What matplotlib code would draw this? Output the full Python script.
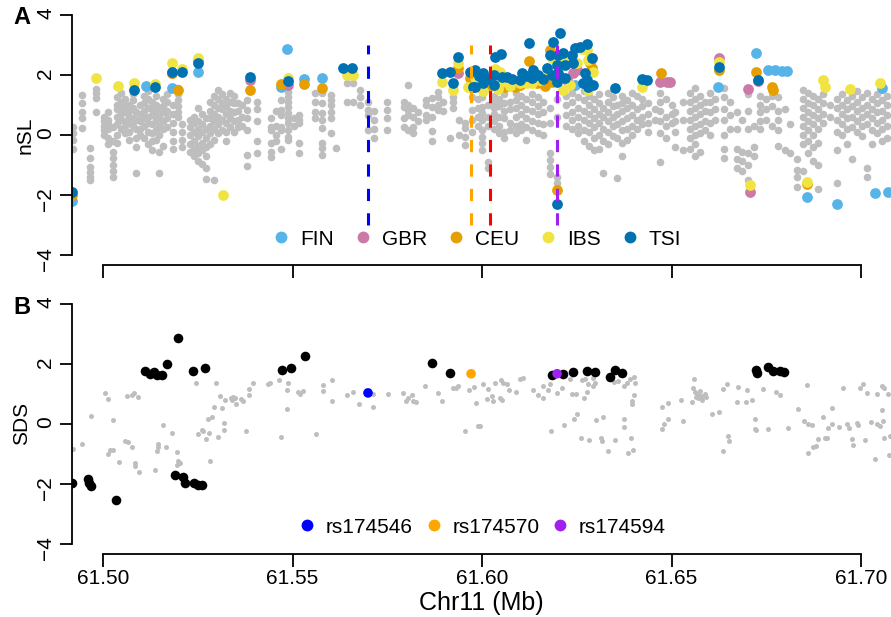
import matplotlib
matplotlib.use("Agg")
import matplotlib.pyplot as plt
from matplotlib.lines import Line2D

plt.rcParams["font.family"] = ["Liberation Sans", "DejaVu Sans"]

# ---- panel A: nSL, gray background SNPs as (position Mb, [values]) columns ----
gray_a_seg1 = [
    (61.4921, [0.25, 0.05, -0.15, -0.45]),
    (61.4945, [1.33, 1.06, 0.78, 0.56, 0.22]),
    (61.4966, [-0.44, -0.78, -1.06, -1.22, -1.39, -1.5]),
    (61.4982, [1.52, 1.39, 1.22, 0.78]),
    (61.5003, [0.6, 0.45, 0.3, 0.15, 0.0]),
    (61.5013, [0.75, 0.5, 0.35, 0.2, -0.1, -0.3]),
    (61.5026, [0.25, -0.2, -0.55, -0.75, -1.0, -1.2, -1.4]),
    (61.5037, [1.25, 1.0, 0.85, 0.6, 0.35, 0.0, -0.25]),
    (61.5047, [1.4, 1.1, 0.9, 0.7, 0.5, 0.2]),
    (61.5058, [1.2, 0.95, 0.75, 0.45, 0.3, 0.05]),
    (61.5069, [1.0, 0.8, 0.6, 0.4, 0.1, -0.15]),
    (61.5079, [1.35, 1.15, 0.9, 0.55, 0.3]),
    (61.5087, [0.75, 0.5, 0.2, -0.1, -0.4, -1.25]),
    (61.5098, [1.0, 0.7, 0.45, 0.2, 0.0]),
    (61.5108, [1.3, 1.05, 0.8, 0.55, 0.3, -0.1]),
    (61.5119, [1.45, 1.2, 0.9, 0.6, 0.4, 0.1, -0.3]),
    (61.5129, [1.1, 0.85, 0.65, 0.35, 0.05, -0.2, -0.5]),
    (61.5140, [1.3, 1.0, 0.7, 0.5, 0.15, -0.15]),
    (61.5148, [0.9, 0.6, 0.3, 0.0, -0.55, -1.25]),
    (61.5158, [1.2, 0.95, 0.75, 0.45, 0.2, -0.35]),
    (61.5169, [1.35, 1.1, 0.8, 0.55, 0.25]),
    (61.5185, [1.0, 0.7, 0.4, 0.1, -0.2, -0.45]),
    (61.5198, [1.55, 1.35, 1.15, 0.95, 0.75, 0.6]),
    (61.5208, [0.35, 0.1, -0.15, -0.4]),
    (61.5230, [0.5, 0.25, 0.0, -0.3, -0.55]),
    (61.5240, [0.6, 0.4, 0.1, -0.2, -0.45, -0.7]),
    (61.5251, [0.9, 0.45, 0.2, -0.05, -0.35, -0.6, -0.85]),
    (61.5261, [0.7, 0.35, 0.1, -0.25, -0.5, -0.95]),
    (61.5272, [0.55, 0.2, -0.1, -0.4, -0.7, -1.1, -1.45]),
    (61.5282, [1.1, 0.8, 0.55, 0.3, 0.05, -0.3]),
    (61.5293, [1.3, 1.0, 0.7, 0.45, 0.2, -0.15, -1.5]),
    (61.5303, [1.5, 1.2, 0.9, 0.6, 0.35, 0.05]),
    (61.5314, [1.35, 1.05, 0.85, 0.5, 0.15]),
    (61.5325, [1.2, 0.95, 0.7, 0.4, 0.1, -0.2]),
    (61.5335, [1.4, 1.1, 0.8, 0.55, 0.25]),
    (61.5346, [1.3, 1.05, 0.75, 0.45, 0.1]),
    (61.5356, [1.05, 0.8, 0.5, 0.25]),
    (61.5367, [1.0, 0.6, 0.3]),
    (61.5380, [1.17, 0.83, 0.56, 0.17, -0.67, -1.03]),
    (61.5406, [1.1, 0.85, 0.45, -0.2, -0.6]),
]
gray_a_seg2 = [
    (61.5443, [0.56, 0.28, 0.17, -0.28, -0.56, -0.73]),
    (61.5456, [0.8, 0.3, 0.0, -0.2]),
    (61.5470, [1.17, 0.83, 0.67, 0.27, 0.17, -0.47]),
    (61.5488, [1.43, 1.27, 1.1, 0.93, 0.73, 0.57, 0.4, 0.17, -0.07, -0.17]),
    (61.5504, [0.55, 0.3]),
    (61.5517, [0.67, 0.5, 0.4, -0.27, -0.6]),
    (61.5559, [1.4, 1.1, 0.77, 0.57]),
    (61.5577, [1.4, 1.07, 0.73, 0.5, 0.23, -0.27, -0.43, -0.67]),
    (61.5601, [1.33, 1.17, 1.0, 0.77, 0.57, 0.07]),
    (61.5614, [-0.43]),
    (61.5644, [1.73, 1.1]),
    (61.5660, [1.73, 1.1]),
    (61.5678, [1.5, 1.27, 1.0]),
    (61.5699, [1.1, 0.83, 0.67, 0.17]),
    (61.5715, [0.8, 0.5, 0.2, -0.1]),
    (61.5749, [1.1, 0.83, 0.57, 0.17]),
    (61.5794, [1.1, 0.93, 0.57, 0.27]),
    (61.5805, [1.67, 1.0, 0.83, 0.67, 0.17]),
    (61.5818, [0.9, 0.6, 0.27, 0.07]),
    (61.5831, [0.75, 0.45]),
    (61.5852, [1.17, 1.0, 0.67, 0.5]),
    (61.5868, [1.23, 0.93, 0.6, 0.13, -0.2]),
    (61.5884, [1.43, 1.27, 1.0, 0.83]),
    (61.5897, [1.1, 0.8]),
    (61.5916, [-0.1]),
    (61.5924, [1.27, 1.1, 0.9]),
    (61.5939, [0.5, 0.0]),
    (61.5955, [0.4, 0.23, -0.07, -0.33]),
    (61.5974, [1.27, 0.83, 0.5, 0.1]),
    (61.5990, [1.2, 0.9, 0.6, 0.3]),
]
gray_a_seg3 = [
    (61.6000, [1.27, 0.93, 0.73, 0.5, 0.17, -0.07, -0.27, -0.5]),
    (61.6016, [1.0, 0.6, 0.3, -0.9, -1.1]),
    (61.6032, [1.3, 1.1, 0.9, 0.7, 0.45, 0.2]),
    (61.6045, [1.2, 0.95, 0.6, 0.3, 0.05]),
    (61.6058, [1.35, 1.05, 0.8, 0.55, 0.1, -0.1]),
    (61.6074, [1.1, 0.85, 0.4, 0.15]),
    (61.6090, [1.4, 1.15, 0.9, 0.6, 0.3, 0.05]),
    (61.6103, [1.3, 1.0, 0.7, 0.35, 0.15]),
    (61.6116, [1.2, 0.85, 0.55, 0.25, -0.15]),
    (61.6132, [1.35, 1.1, 0.8, 0.45, 0.15]),
    (61.6148, [1.25, 0.95, 0.7, 0.4, 0.05]),
    (61.6161, [1.1, 0.75, 0.35, 0.0]),
    (61.6179, [0.9, 0.4, -0.6, -0.83, -1.07, -1.3]),
    (61.6198, [1.2, 0.6, -1.4, -1.6]),
    (61.6222, [1.3, 1.0, 0.65, 0.3]),
    (61.6237, [1.4, 1.1, 0.75, 0.5, 0.2]),
    (61.6253, [1.25, 0.9, 0.6, 0.3, 0.05]),
    (61.6269, [1.45, 1.15, 0.8, 0.5, 0.15, -0.2]),
    (61.6282, [1.3, 1.0, 0.7, 0.4, 0.1, -0.35]),
    (61.6295, [1.2, 0.85, 0.55, 0.25, -0.1, -0.5]),
    (61.6309, [1.35, 1.05, 0.7, 0.4, 0.0, -0.45]),
    (61.6319, [0.9, 0.6, 0.2, -0.2, -1.27]),
    (61.6332, [1.4, 1.1, 0.75, 0.45, 0.1, -0.3]),
    (61.6346, [1.25, 0.95, 0.6, 0.3, -0.05]),
    (61.6356, [1.0, 0.7, 0.35, -0.1, -1.43]),
    (61.6369, [1.3, 1.05, 0.8, 0.45, 0.15, -0.25, -0.7]),
    (61.6382, [1.15, 0.9, 0.55, 0.2, -0.15]),
    (61.6396, [1.4, 1.0, 0.65, 0.3, 0.0]),
    (61.6409, [1.3, 0.85, 0.5, 0.2]),
    (61.6422, [1.2, 0.95, 0.6, 0.35]),
    (61.6438, [1.05, 0.7, 0.4, 0.1]),
    (61.6456, [0.85, 0.5]),
    (61.6470, [1.4, 1.1, 0.8, 0.45, 0.05, -0.9]),
    (61.6485, [1.2, 0.6, 0.3, -0.1]),
]
gray_a_seg4 = [
    (61.6501, [1.0, 0.7, 0.4]),
    (61.6509, [0.75, 0.45, 0.1, -0.4]),
    (61.6530, [1.1, 0.5, -0.5]),
    (61.6549, [1.4, 1.1, 0.8, 0.5, 0.2, -0.1, -0.45]),
    (61.6562, [1.55, 1.2, 0.9, 0.6, 0.3, 0.0, -0.3, -0.7]),
    (61.6575, [1.3, 1.0, 0.7, 0.35, 0.05, -0.55]),
    (61.6588, [1.1, 0.8, 0.45, 0.15]),
    (61.6602, [1.4, 1.1, 0.75, 0.4, 0.0]),
    (61.6615, [1.2, 0.85, 0.5]),
    (61.6639, [1.55, 1.25, 0.85, 0.5, 0.0, -0.45, -0.75]),
    (61.6654, [1.1, 0.65, 0.2]),
    (61.6673, [0.75, 0.2, -0.45, -0.8, -1.1]),
    (61.6686, [0.5, -0.55, -0.85, -1.2]),
    (61.6702, [1.35, 0.8, 0.2, -0.6, -1.0, -1.5]),
    (61.6718, [0.3, -0.4, -0.7]),
    (61.6734, [1.3, 1.0, 0.75, 0.45, 0.2]),
    (61.6749, [1.2, 0.85, 0.5]),
    (61.6765, [1.3, 0.95, 0.3]),
    (61.6781, [1.25, 0.8, 0.5, 0.15, -0.35]),
    (61.6799, [0.85, -0.5]),
    (61.6813, [0.35, -0.6]),
    (61.6831, [-0.8, -1.17, -1.4, -1.73]),
    (61.6847, [1.5, 1.2, 0.9, 0.6, 0.3, 0.0, -0.3, -1.2]),
    (61.6860, [1.4, 1.05, 0.75, 0.45, 0.15, -0.2, -0.6]),
    (61.6873, [1.3, 1.0, 0.65, 0.35, 0.0, -0.4, -0.85]),
    (61.6887, [1.2, 0.85, 0.55, 0.2, -0.25, -1.0, -1.8]),
    (61.6900, [1.35, 1.05, 0.7, 0.4]),
    (61.6918, [1.0, 0.6]),
    (61.6937, [1.2, 0.9, 0.5, 0.1, -0.5, -1.6]),
    (61.6950, [1.35, 1.0, 0.7, 0.35, 0.0]),
    (61.6963, [1.15, 0.85, 0.55, 0.2, -0.3]),
    (61.6976, [1.3, 0.95, 0.6, 0.25, -0.8]),
    (61.6990, [1.45, 1.1, 0.8, 0.45, 0.1]),
    (61.7003, [1.25, 0.9, 0.6, 0.3, -0.05]),
    (61.7016, [1.4, 1.0, 0.7, 0.35, -1.1, -1.4]),
    (61.7029, [1.2, 0.85, 0.55, 0.15, -0.3]),
    (61.7042, [1.35, 1.05, 0.75, 0.4, 0.05]),
    (61.7055, [1.5, 1.15, 0.8, 0.5, 0.2, -0.2]),
    (61.7069, [1.3, 1.0, 0.65, 0.3, -0.1]),
]

# ---- panel A: outlier SNPs per population (position Mb, nSL) ----
fin = [(61.4918, -2.2), (61.5113, 1.63), (61.5182, 1.57), (61.5251, 2.1),
       (61.5470, 1.6), (61.5486, 2.87), (61.5530, 1.87), (61.5577, 1.9),
       (61.6245, 1.67), (61.6623, 1.6), (61.6723, 2.73), (61.6755, 2.17),
       (61.6773, 2.17), (61.6792, 2.13), (61.6805, 2.13), (61.6858, -2.07),
       (61.6937, -2.3), (61.7037, -1.93), (61.7071, -1.9), (61.7055, 1.57)]
gbr = [(61.5182, 2.05), (61.5388, 1.83), (61.5488, 1.67), (61.5937, 2.07),
       (61.6240, 2.07), (61.6251, 2.17), (61.6224, 1.83), (61.6470, 1.77),
       (61.6488, 1.77), (61.6496, 1.77), (61.6625, 2.57), (61.6702, 1.53),
       (61.6728, 1.8), (61.6707, -1.9)]
ceu = [(61.4918, -2.0), (61.5182, 2.05), (61.5198, 1.5), (61.5251, 2.5),
       (61.5388, 1.5), (61.5470, 1.7), (61.5530, 1.7), (61.5577, 1.57),
       (61.5937, 2.23), (61.5968, 1.9), (61.5987, 1.83), (61.6021, 1.63),
       (61.6047, 1.7), (61.6061, 1.6), (61.6074, 1.73), (61.6087, 1.6),
       (61.6100, 1.65), (61.6113, 1.77), (61.6124, 2.47), (61.6145, 1.73),
       (61.6158, 1.73), (61.6166, 1.63), (61.6179, 2.83), (61.6185, 1.77),
       (61.6285, 2.4), (61.6290, 2.23), (61.6198, -1.83), (61.6472, 2.07),
       (61.6625, 2.17), (61.6723, 2.1), (61.6765, 1.6), (61.6768, 1.5),
       (61.6858, -1.63)]
ibs = [(61.4982, 1.9), (61.5040, 1.63), (61.5082, 1.73), (61.5137, 1.7),
       (61.5182, 2.4), (61.5208, 2.2), (61.5251, 2.57), (61.5317, -2.0),
       (61.5488, 1.9), (61.5644, 2.0), (61.5660, 2.0), (61.5894, 1.77),
       (61.5924, 1.5), (61.5937, 2.4), (61.5963, 1.6), (61.5982, 1.9),
       (61.6003, 1.47), (61.6034, 2.2), (61.6042, 1.53), (61.6047, 2.1),
       (61.6053, 1.77), (61.6074, 1.63), (61.6100, 1.73), (61.6119, 1.73),
       (61.6132, 1.73), (61.6153, 1.83), (61.6172, 2.07), (61.6185, 2.57),
       (61.6211, 2.5), (61.6214, 1.5), (61.6224, 2.4), (61.6232, 1.67),
       (61.6251, 2.4), (61.6264, 2.87), (61.6277, 2.83), (61.6280, 2.5),
       (61.6280, 1.5), (61.6293, 2.1), (61.6422, 1.6), (61.6625, 2.43),
       (61.6900, 1.83), (61.6905, 1.6), (61.6971, 1.53), (61.7050, 1.73),
       (61.6707, -1.67), (61.6858, -1.57)]
tsi = [(61.4918, -1.9), (61.5082, 1.5), (61.5137, 1.6), (61.5182, 2.1),
       (61.5208, 2.1), (61.5251, 2.4), (61.5388, 1.93), (61.5488, 1.8),
       (61.5634, 2.23), (61.5657, 2.23), (61.5894, 2.07), (61.5916, 2.1),
       (61.5924, 1.73), (61.5937, 2.6), (61.5968, 2.1), (61.5976, 1.6),
       (61.5982, 2.17), (61.5982, 1.6), (61.5992, 1.95), (61.6003, 2.07),
       (61.6003, 1.73), (61.6013, 1.85), (61.6032, 2.0), (61.6032, 1.67),
       (61.6034, 2.6), (61.6050, 2.7), (61.6053, 1.93), (61.6066, 1.93),
       (61.6079, 1.87), (61.6100, 1.83), (61.6106, 2.07), (61.6119, 1.95),
       (61.6124, 3.07), (61.6132, 1.9), (61.6135, 2.17), (61.6148, 2.0),
       (61.6161, 1.85), (61.6172, 2.23), (61.6179, 2.67), (61.6185, 2.0),
       (61.6187, 3.1), (61.6206, 3.4), (61.6198, 2.33), (61.6198, 1.77),
       (61.6201, 2.67), (61.6201, 2.07), (61.6214, 2.73), (61.6219, 2.33),
       (61.6219, 1.9), (61.6237, 2.67), (61.6240, 2.4), (61.6245, 2.9),
       (61.6259, 2.93), (61.6277, 3.03), (61.6266, 1.73), (61.6272, 2.07),
       (61.6277, 1.83), (61.6280, 1.6), (61.6290, 2.57), (61.6293, 1.67),
       (61.6198, -2.3), (61.6351, 1.57), (61.6422, 1.87), (61.6435, 1.83),
       (61.6625, 2.27), (61.6728, 1.83)]

pop_names = ["FIN", "GBR", "CEU", "IBS", "TSI"]
pop_colors = ["#56B4E9", "#CC79A7", "#E69F00", "#F0E442", "#0072B2"]

# candidate SNPs (dashed lines in A, highlighted in B)
line_pos = [61.5699, 61.5971, 61.6021, 61.6198]
line_colors = ["#0000FF", "#FFA500", "#FF0000", "#A020F0"]

# ---- panel B: SDS ----
gray_b = [
    (61.4921, -0.83), (61.4945, -0.67), (61.4968, 0.27), (61.5005, 1.03),
    (61.5013, 0.83), (61.5026, 0.13), (61.5013, -1.0), (61.5018, -0.87),
    (61.5026, -0.87), (61.5042, -1.27), (61.5058, -0.57), (61.5066, -0.6),
    (61.5077, -0.77), (61.5063, 0.93), (61.5077, 0.97), (61.5082, 1.03),
    (61.5092, 0.9), (61.5084, -1.3), (61.5084, -1.4), (61.5095, -1.6),
    (61.5137, -1.53), (61.5142, -0.9), (61.5145, -0.67), (61.5145, -0.77),
    (61.5166, -0.77), (61.5158, -0.03), (61.5182, -0.3), (61.5195, -0.93),
    (61.5198, -1.23), (61.5195, -1.37), (61.5203, -1.3), (61.5245, 1.37),
    (61.5251, -0.33), (61.5261, -0.2), (61.5264, -0.25), (61.5272, -0.5),
    (61.5280, -0.3), (61.5282, -1.23), (61.5277, 0.17), (61.5288, 0.23),
    (61.5293, 0.57), (61.5298, 1.37), (61.5303, -0.43), (61.5309, 0.93),
    (61.5314, 0.53), (61.5319, 0.03), (61.5319, -0.2), (61.5322, 0.8),
    (61.5338, 0.87), (61.5343, 0.9), (61.5348, 0.85), (61.5340, 0.8),
    (61.5364, 0.82), (61.5369, 0.77), (61.5351, 0.67), (61.5377, -0.23),
    (61.5385, 1.17), (61.5385, 0.95), (61.5396, 1.37), (61.5435, 1.33),
    (61.5441, 1.37), (61.5464, 1.47), (61.5470, -0.43), (61.5486, 1.13),
    (61.5488, 1.37), (61.5486, 0.5), (61.5515, 1.07), (61.5520, 1.0),
    (61.5528, 1.1), (61.5562, -0.33), (61.5580, 1.3), (61.5580, 1.1),
    (61.5604, 1.47), (61.5604, 0.77), (61.5644, 0.97), (61.5660, 1.07),
    (61.5675, 0.67), (61.5712, 0.57), (61.5712, 1.0), (61.5752, 1.0),
    (61.5792, 1.03), (61.5800, 0.77), (61.5805, 0.85), (61.5815, 0.97),
    (61.5818, 0.75), (61.5826, 0.73), (61.5850, 1.27), (61.5884, 1.03),
    (61.5894, 0.77), (61.5924, 1.2), (61.5932, 1.2), (61.5937, 1.27),
    (61.5955, -0.23), (61.5966, 1.13), (61.5979, 1.23), (61.5984, 0.7),
    (61.5990, -0.07), (61.6003, 1.32), (61.6016, 1.15), (61.6013, 0.82),
    (61.6026, 0.93), (61.6034, 1.35), (61.6029, 0.76), (61.6050, 1.45),
    (61.6055, 1.37), (61.6066, 1.34), (61.6047, 0.87), (61.6053, 0.8),
    (61.6071, 1.13), (61.6090, 1.06), (61.6100, 1.49), (61.6108, 1.54),
    (61.5995, -0.07), (61.6135, 1.13), (61.6148, 0.95), (61.6161, 0.85),
    (61.6161, 1.26), (61.6174, 1.12), (61.6179, 1.32), (61.6182, -0.23),
    (61.6198, 1.02), (61.6211, 1.19), (61.6216, -0.04), (61.6232, 1.49),
    (61.6237, 0.99), (61.6248, 1.01), (61.6243, 0.15), (61.6251, 0.34),
    (61.6261, -0.49), (61.6282, -0.54), (61.6264, 1.45), (61.6272, 1.49),
    (61.6280, 1.34), (61.6293, 1.26), (61.6298, 1.37), (61.6269, 0.85),
    (61.6277, 1.07), (61.6293, 1.52), (61.6301, 0.13), (61.6319, 0.21),
    (61.6314, -0.46), (61.6317, -0.57), (61.6332, -0.9), (61.6351, -0.55),
    (61.6348, 1.4), (61.6359, 1.43), (61.6375, 1.26), (61.6382, 1.37),
    (61.6390, 1.49), (61.6401, 1.56), (61.6404, 1.37), (61.6401, 0.96),
    (61.6396, 0.76), (61.6396, 0.65), (61.6375, 0.17), (61.6375, -0.1),
    (61.6385, -0.96), (61.6398, -0.87), (61.6393, -0.46), (61.6475, 0.56),
    (61.6475, -0.16), (61.6480, -0.01), (61.6491, 0.69), (61.6491, 0.17),
    (61.6525, 0.79), (61.6530, 0.1), (61.6554, 0.74), (61.6559, 1.49),
    (61.6557, 1.2), (61.6562, 1.05), (61.6565, 0.9), (61.6567, 0.98),
    (61.6570, 0.85), (61.6572, 0.95), (61.6575, 1.1), (61.6578, 0.88),
    (61.6580, 0.8), (61.6583, 0.92), (61.6588, 1.0), (61.6591, 0.9),
    (61.6607, 0.34), (61.6625, 0.4), (61.6636, -0.9), (61.6649, -0.4),
    (61.6652, -0.59), (61.6636, 1.15), (61.6646, 1.34), (61.6673, 0.74),
    (61.6675, 1.23), (61.6696, 0.74), (61.6699, 1.12), (61.6712, 0.79),
    (61.6720, 0.15), (61.6720, -0.16), (61.6723, -0.21), (61.6741, 1.15),
    (61.6755, -0.18), (61.6776, 1.07), (61.6786, 0.96), (61.6807, -0.13),
    (61.6834, 0.49), (61.6858, 1.29), (61.6850, 0.1), (61.6860, -0.01),
    (61.6871, -0.05), (61.6860, -0.99), (61.6873, -0.79), (61.6881, -0.74),
    (61.6887, -0.51), (61.6905, -0.48), (61.6910, -0.49), (61.6900, 0.21),
    (61.6913, -0.13), (61.6923, -0.01), (61.6923, 0.51), (61.6942, -0.1),
    (61.6953, 1.21), (61.6963, -0.01), (61.6968, -0.15), (61.6976, -0.51),
    (61.6979, -0.7), (61.6990, 0.04), (61.6992, -0.04), (61.6997, 1.21),
    (61.7005, 1.32), (61.7011, -0.55), (61.7016, 1.02), (61.7026, 0.06),
    (61.7037, -1.18), (61.7042, 1.01), (61.7042, -0.01), (61.7050, -0.07),
    (61.7055, 1.26), (61.7061, 1.21), (61.7058, 0.1), (61.7055, 0.46),
    (61.7061, -0.46), (61.7071, 1.01), (61.7077, -0.4), (61.7074, -1.04),
]
sig_b = [
    (61.4918, -1.97), (61.4960, -1.83), (61.4963, -1.97), (61.4968, -2.07),
    (61.5034, -2.53), (61.5111, 1.77), (61.5124, 1.67), (61.5135, 1.73),
    (61.5142, 1.63), (61.5156, 1.63), (61.5169, 2.0), (61.5198, 2.87),
    (61.5237, 1.77), (61.5269, 1.87), (61.5190, -1.7), (61.5211, -1.77),
    (61.5216, -1.97), (61.5240, -1.97), (61.5251, -2.03), (61.5261, -2.03),
    (61.5472, 1.8), (61.5496, 1.87), (61.5533, 2.27), (61.5868, 2.03),
    (61.5916, 1.7), (61.6185, 1.63), (61.6214, 1.67), (61.6240, 1.73),
    (61.6277, 1.77), (61.6298, 1.73), (61.6338, 1.57), (61.6351, 1.8),
    (61.6369, 1.7), (61.6723, 1.8), (61.6725, 1.7), (61.6755, 1.9),
    (61.6768, 1.77), (61.6786, 1.75), (61.6797, 1.73),
]
snp_names = ["rs174546", "rs174570", "rs174594"]
snp_pos = [61.5699, 61.5971, 61.6198]
snp_sds = [1.03, 1.67, 1.67]
snp_colors = ["#0000FF", "#FFA500", "#A020F0"]

GRAY = "#BEBEBE"
XLIM = (61.4918, 61.7079)
YLIM = (-4.333, 4.333)


def unzip_cols(*segments):
    xs, ys = [], []
    for seg in segments:
        for pos, vals in seg:
            xs += [pos] * len(vals)
            ys += vals
    return xs, ys


def unzip_pairs(pairs):
    return [p for p, _ in pairs], [v for _, v in pairs]


def style_axes(ax, labels=True):
    ax.set_xlim(*XLIM)
    ax.set_ylim(*YLIM)
    for s in ("top", "right"):
        ax.spines[s].set_visible(False)
    ax.spines["left"].set_bounds(-4, 4)
    ax.spines["bottom"].set_bounds(61.50, 61.70)
    for s in ("left", "bottom"):
        ax.spines[s].set_linewidth(1.3)
    ax.set_yticks([-4, -2, 0, 2, 4])
    ax.set_xticks([61.50, 61.55, 61.60, 61.65, 61.70])
    ax.tick_params(direction="out", length=9, width=1.3, labelsize=15)
    ax.tick_params(axis="y", labelrotation=90, pad=3)
    ax.tick_params(axis="x", pad=2, labelbottom=labels)
    if labels:
        ax.set_xticklabels(["61.50", "61.55", "61.60", "61.65", "61.70"])


fig = plt.figure(figsize=(8.91, 6.17), dpi=100)
ax_a = fig.add_axes([0.0808, 0.5705, 0.9192, 0.4214])
ax_b = fig.add_axes([0.0808, 0.1029, 0.9192, 0.4206])

# panel A
gx, gy = unzip_cols(gray_a_seg1, gray_a_seg2, gray_a_seg3, gray_a_seg4)
ax_a.scatter(gx, gy, s=30, color=GRAY, linewidths=0, zorder=1)
handles_a = []
for name, col, data in zip(pop_names, pop_colors, [fin, gbr, ceu, ibs, tsi]):
    px, py = unzip_pairs(data)
    ax_a.scatter(px, py, s=60, color=col, linewidths=0, zorder=2)
    handles_a.append(Line2D([], [], ls="none", marker="o", ms=8.5,
                            mfc=col, mec="none", label=name))
ax_a.vlines(line_pos, -3, 3, colors=line_colors, linestyles=(0, (4, 4)),
            linewidth=2.2, zorder=3)
style_axes(ax_a, labels=False)
ax_a.legend(handles=handles_a, loc="center", bbox_to_anchor=(0.4945, 0.1),
            ncol=5, frameon=False, fontsize=15, handlelength=0.8,
            handletextpad=0.5, columnspacing=1.0, borderaxespad=0)

# panel B
bx, by = unzip_pairs(gray_b)
ax_b.scatter(bx, by, s=13, color=GRAY, linewidths=0, zorder=1)
sx, sy = unzip_pairs(sig_b)
ax_b.scatter(sx, sy, s=48, color="black", linewidths=0, zorder=2)
ax_b.scatter(snp_pos, snp_sds, s=48, c=snp_colors, linewidths=0, zorder=3)
handles_b = [Line2D([], [], ls="none", marker="o", ms=8.5, mfc=c, mec="none",
                    label=n) for n, c in zip(snp_names, snp_colors)]
style_axes(ax_b, labels=True)
ax_b.legend(handles=handles_b, loc="center", bbox_to_anchor=(0.501, 0.102),
            ncol=3, frameon=False, fontsize=15, handlelength=0.8,
            handletextpad=0.5, columnspacing=0.6, borderaxespad=0)
ax_b.set_xlabel("Chr11 (Mb)", fontsize=18, labelpad=2)

fig.text(25 / 891, 1 - 135 / 617, "nSL", rotation=90, ha="center",
         va="center", fontsize=15)
fig.text(22 / 891, 1 - 423.5 / 617, "SDS", rotation=90, ha="center",
         va="center", fontsize=15)
fig.text(22 / 891, 1 - 18 / 617, "A", ha="center", va="center",
         fontsize=17, fontweight="bold")
fig.text(22 / 891, 1 - 308 / 617, "B", ha="center", va="center",
         fontsize=17, fontweight="bold")

fig.savefig("out.png", dpi=100)
